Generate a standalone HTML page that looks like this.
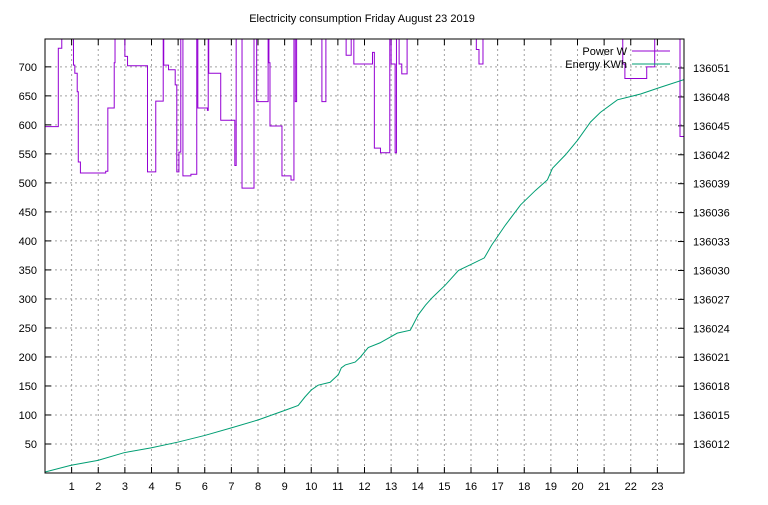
<!DOCTYPE html>
<html><head><meta charset="utf-8"><style>
body{margin:0;background:#fff;}
svg text{font-family:"Liberation Sans",sans-serif;font-size:11px;fill:#000;}
</style></head><body>
<svg width="768" height="500" xmlns="http://www.w3.org/2000/svg">
<defs><clipPath id="pc"><rect x="45" y="39" width="639" height="434"/></clipPath></defs>
<rect width="768" height="500" fill="#fff"/>
<text x="362" y="22" text-anchor="middle">Electricity consumption Friday August 23 2019</text>
<g id="grid"></g>
<g id="axes"></g>
<g clip-path="url(#pc)">
<path id="power" fill="none" stroke="#9400d3" stroke-width="1"/>
<path id="energy" fill="none" stroke="#009e73" stroke-width="1"/>
</g>
<rect x="45" y="39" width="639" height="434" fill="none" stroke="#000"/>
<g>
<text x="627" y="55" text-anchor="end">Power W</text>
<line x1="632" y1="51" x2="670" y2="51" stroke="#9400d3"/>
<text x="627" y="68" text-anchor="end">Energy KWh</text>
<line x1="632" y1="64" x2="670" y2="64" stroke="#009e73"/>
</g>
</svg>
<script>
const xTicks=[1,2,3,4,5,6,7,8,9,10,11,12,13,14,15,16,17,18,19,20,21,22,23];
const yTicks=[50,100,150,200,250,300,350,400,450,500,550,600,650,700];
const y2Ticks=[136012,136015,136018,136021,136024,136027,136030,136033,136036,136039,136042,136045,136048,136051];
const powerHours=[0,0.5,0.63,1.07,1.12,1.21,1.25,1.33,2.28,2.36,2.6,2.63,3.0,3.1,3.85,4.16,4.44,4.46,4.64,4.89,4.95,5.03,5.1,5.18,5.48,5.7,5.74,6.1,6.13,6.15,6.6,7.13,7.18,7.4,7.85,7.95,8.0,8.38,8.41,8.45,8.9,9.24,9.35,9.4,9.45,10.4,10.55,11.31,11.5,11.6,12.3,12.37,12.6,12.95,13.0,13.15,13.2,13.3,13.4,13.6,16.2,16.3,16.45,21.7,21.78,22.6,22.9,23.85];
const powerWatts=[597,732,800,703,689,657,536,517,520,629,707,800,718,702,519,641,800,703,695,669,519,553,800,512,515,800,629,625,800,689,608,530,800,491,800,640,640,800,707,598,512,505,800,640,800,640,800,720,800,705,725,560,552,800,705,552,800,705,688,800,730,705,800,705,680,700,800,580];
const energyHours=[0,0.98,1.99,2.97,3.98,5.0,6.02,7.03,8.01,9.02,9.51,9.77,10.0,10.26,10.71,11.02,11.13,11.28,11.65,11.84,12.14,12.59,13.23,13.72,14.02,14.29,14.55,15.04,15.53,15.98,16.5,16.77,17.29,17.86,18.42,18.87,19.06,19.55,20.0,20.49,20.86,21.5,22.37,23.12,24];
const energyKwh=[136009.1,136009.8,136010.3,136011.1,136011.6,136012.2,136012.9,136013.7,136014.5,136015.5,136016.0,136016.9,136017.6,136018.1,136018.4,136019.2,136019.9,136020.2,136020.5,136021.0,136022.0,136022.5,136023.5,136023.8,136025.4,136026.4,136027.2,136028.5,136030.0,136030.6,136031.3,136032.6,136034.7,136036.8,136038.3,136039.4,136040.6,136042.0,136043.5,136045.4,136046.4,136047.7,136048.3,136049.0,136049.8];

const L=45,R=684,T=39,B=473;
const X=h=>L+h*(R-L)/24;
const Y=w=>B-w*(B-T)/748;
const Y2=k=>68+(136051-k)*(444-68)/39;
const NS="http://www.w3.org/2000/svg";
const grid=document.getElementById('grid'),axes=document.getElementById('axes');
function mk(tag,attrs,parent){const e=document.createElementNS(NS,tag);for(const k in attrs)e.setAttribute(k,attrs[k]);parent.appendChild(e);return e;}
xTicks.forEach(h=>{const x=X(h);
 const g=mk('line',{x1:x,y1:T,x2:x,y2:B,stroke:'#a0a0a0','stroke-dasharray':'2,3'},grid);
 
 
 mk('line',{x1:x,y1:B,x2:x,y2:B-6,stroke:'#000'},axes);
 mk('line',{x1:x,y1:T,x2:x,y2:T+6,stroke:'#000'},axes);
 const t=mk('text',{x:x,y:B+17,'text-anchor':'middle'},axes);t.textContent=h;
 
 
});
yTicks.forEach(w=>{const y=Y(w);
 const g=mk('line',{x1:L,y1:y,x2:R,y2:y,stroke:'#a0a0a0','stroke-dasharray':'2,3'},grid);
 
 
 mk('line',{x1:L,y1:y,x2:L+6,y2:y,stroke:'#000'},axes);
 const t=mk('text',{x:37,y:y+4,'text-anchor':'end'},axes);t.textContent=w;
 
 
});
y2Ticks.forEach(k=>{const y=Y2(k);
 mk('line',{x1:R,y1:y,x2:R-6,y2:y,stroke:'#000'},axes);
 const t=mk('text',{x:693,y:y+4,'text-anchor':'start'},axes);t.textContent=k;
 
 
});
let d='';
for(let i=0;i<powerHours.length;i++){
 const x=X(powerHours[i]),y=Y(powerWatts[i]);
 if(i===0)d+='M'+x+','+y;else d+='L'+x+','+Y(powerWatts[i-1])+'L'+x+','+y;
}
d+='L'+X(24)+','+Y(powerWatts[powerWatts.length-1]);
document.getElementById('power').setAttribute('d',d);
let e='';
energyHours.forEach((h,i)=>{e+=(i?'L':'M')+X(h)+','+Y2(energyKwh[i]);});
document.getElementById('energy').setAttribute('d',e);
</script>
</body></html>
